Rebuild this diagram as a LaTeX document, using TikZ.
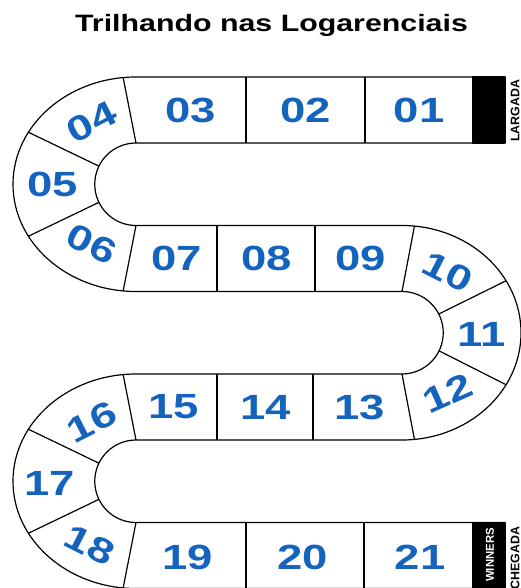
\documentclass[tikz,border=0pt]{standalone}
\usepackage{fontspec}
\setmainfont{Liberation Sans}
\newfontfamily\boardfont{Liberation Sans}[FakeStretch=1.3]
\newfontfamily\titlefont{Liberation Sans}[FakeStretch=1.28]
\usetikzlibrary{calc}
\usepackage{xcolor}
\definecolor{numblue}{HTML}{1464BE}

\begin{document}
\begin{tikzpicture}[x=1pt,y=-1pt,
  track/.style={line width=1.2pt,line join=round},
  num/.style={font=\boardfont\bfseries\fontsize{35}{35}\selectfont,text=numblue,inner sep=0pt},
  endtag/.style={font=\bfseries\fontsize{12.4}{12.4}\selectfont,rotate=90,inner sep=0pt}]
  \useasboundingbox (0,0) rectangle (521,588);
  \coordinate (L1) at (136,184.25);
  \coordinate (R1) at (402,332.75);
  \coordinate (L2) at (136,481.25);
  \node[font=\titlefont\bfseries\fontsize{23.7}{24}\selectfont,anchor=base] (title) at (271.5,32) {Trilhando nas Logarenciais};
  \filldraw[track] (473,77) rectangle (505,143);
  \filldraw[track] (473,522.5) rectangle (505,588.5);
  \draw[track] (505,77) -- (136,77) arc[start angle=270,end angle=90,x radius=123,y radius=107.25]
    -- (402,291.5) arc[start angle=270,end angle=450,radius=41.25]
    -- (136,374) arc[start angle=270,end angle=90,x radius=123,y radius=107.25]
    -- (505,588.5);
  \draw[track] (505,143) -- (136,143) arc[start angle=270,end angle=90,radius=41.25]
    -- (402,225.5) arc[start angle=270,end angle=450,x radius=119,y radius=107.25]
    -- (136,440) arc[start angle=270,end angle=90,radius=41.25]
    -- (505,522.5);
  \foreach \x in {246,365} \draw[track] (\x,77) -- (\x,143);
  \foreach \x in {217,315} \draw[track] (\x,225.5) -- (\x,291.5);
  \foreach \x in {217,313} \draw[track] (\x,374) -- (\x,440);
  \foreach \x in {246,364} \draw[track] (\x,522.5) -- (\x,588.5);
  \foreach \ia/\oa in {270/264,206/209,154/151,90/96} {
    \draw[track] ($(L1)+(\ia:41.25)$) -- ($(L1)+(\oa:123 and 107.25)$);
    \draw[track] ($(L2)+(\ia:41.25)$) -- ($(L2)+(\oa:123 and 107.25)$);
  }
  \foreach \ia/\oa in {270/276,333/331,26/29,90/84}
    \draw[track] ($(R1)+(\ia:41.25)$) -- ($(R1)+(\oa:119 and 107.25)$);
  \node[num] (c01) at (419,110) {01};
  \node[num] (c02) at (305.5,110) {02};
  \node[num] (c03) at (191,110) {03};
  \node[num,rotate=27] (c04) at (92,122) {04};
  \node[num] (c05) at (53,184) {05};
  \node[num,rotate=-27] (c06) at (92,244) {06};
  \node[num] (c07) at (177,258) {07};
  \node[num] (c08) at (267,258) {08};
  \node[num] (c09) at (361,258) {09};
  \node[num,rotate=-27] (c10) at (448,272) {10};
  \node[num] (c11) at (482,334) {11};
  \node[num,rotate=24] (c12) at (448,393) {12};
  \node[num] (c13) at (360,407) {13};
  \node[num] (c14) at (266,407) {14};
  \node[num] (c15) at (174,407) {15};
  \node[num,rotate=27] (c16) at (92,422) {16};
  \node[num] (c17) at (50,483) {17};
  \node[num,rotate=-27] (c18) at (90,545) {18};
  \node[num] (c19) at (188,557) {19};
  \node[num] (c20) at (303,557) {20};
  \node[num] (c21) at (420,557) {21};
  \node[endtag] (start) at (515,111) {LARGADA};
  \node[endtag,text=white,font=\bfseries\fontsize{11.4}{11.4}\selectfont] (winners) at (490,555) {WINNERS};
  \node[endtag] (finish) at (515,558) {CHEGADA};
\end{tikzpicture}
\end{document}
